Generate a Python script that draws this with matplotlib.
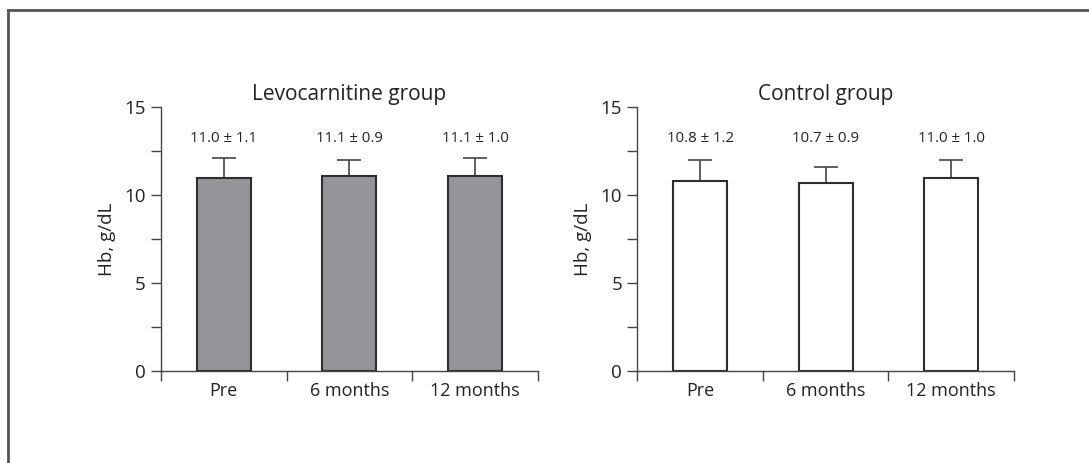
import numpy as np
import matplotlib.pyplot as plt
from matplotlib.ticker import MultipleLocator

plt.rcParams['font.family'] = ['Open Sans', 'DejaVu Sans']

# ─────────────────────────────────────────
# Data (Hb, g/dL, mean ± SD)
# ─────────────────────────────────────────
categories = ['Pre', '6 months', '12 months']

levo_mean = [11.0, 11.1, 11.1]
levo_sd   = [1.1, 0.9, 1.0]

ctrl_mean = [10.8, 10.7, 11.0]
ctrl_sd   = [1.2, 0.9, 1.0]

titles = ['Levocarnitine group', 'Control group']

# ─────────────────────────────────────────
# Figure
# ─────────────────────────────────────────
fig = plt.figure(figsize=(10.89, 4.63), dpi=100)

# outer frame (top and left edges visible in the source)
fig.add_artist(plt.Line2D([0.0078, 1.0], [0.979, 0.979], transform=fig.transFigure,
                          color='#555555', lw=2))
fig.add_artist(plt.Line2D([0.0078, 0.0078], [0.0, 0.979], transform=fig.transFigure,
                          color='#555555', lw=2))

ax1 = fig.add_axes([0.1478, 0.1987, 0.3462, 0.5695])
ax2 = fig.add_axes([0.5852, 0.1987, 0.3459, 0.5695])

panels = [
    (ax1, levo_mean, levo_sd, '#939598'),
    (ax2, ctrl_mean, ctrl_sd, 'white'),
]

x = np.arange(len(categories))
for (ax, mean, sd, fill), title in zip(panels, titles):
    ax.bar(x, mean, width=0.43, color=fill, edgecolor='#2e2e2e', linewidth=1.5, zorder=2)
    ax.errorbar(x, mean, yerr=[np.zeros(len(sd)), sd], fmt='none',
                ecolor='#444444', elinewidth=1.2, capsize=8.5, capthick=1.2, zorder=1)
    for xi, m, s in zip(x, mean, sd):
        ax.text(xi, 13.2, f'{m:.1f} ± {s:.1f}', ha='center', va='center',
                fontsize=10.8, color='#222222')

    ax.set_xlim(-0.5, 2.5)
    ax.set_ylim(0, 15)
    ax.yaxis.set_major_locator(MultipleLocator(5))
    ax.yaxis.set_minor_locator(MultipleLocator(2.5))
    ax.set_xticks([-0.5, 0.5, 1.5, 2.5])
    ax.set_xticklabels([])
    ax.set_xticks(x, minor=True)
    ax.set_xticklabels(categories, minor=True, fontsize=13, color='#222222')
    ax.tick_params(axis='x', which='minor', length=0, pad=8)
    ax.tick_params(axis='x', which='major', length=7, width=1, color='#444444')
    ax.tick_params(axis='y', which='both', length=7, width=1, color='#444444',
                   labelsize=13.5, labelcolor='#222222', pad=4)

    for side in ['top', 'right']:
        ax.spines[side].set_visible(False)
    for side in ['left', 'bottom']:
        ax.spines[side].set_color('#444444')
        ax.spines[side].set_linewidth(1)

    ax.set_ylabel('Hb, g/dL', fontsize=13.5, color='#222222', labelpad=6)
    ax.set_title(title, fontsize=15, color='#222222', pad=5)

plt.savefig('out.png', dpi=100)
